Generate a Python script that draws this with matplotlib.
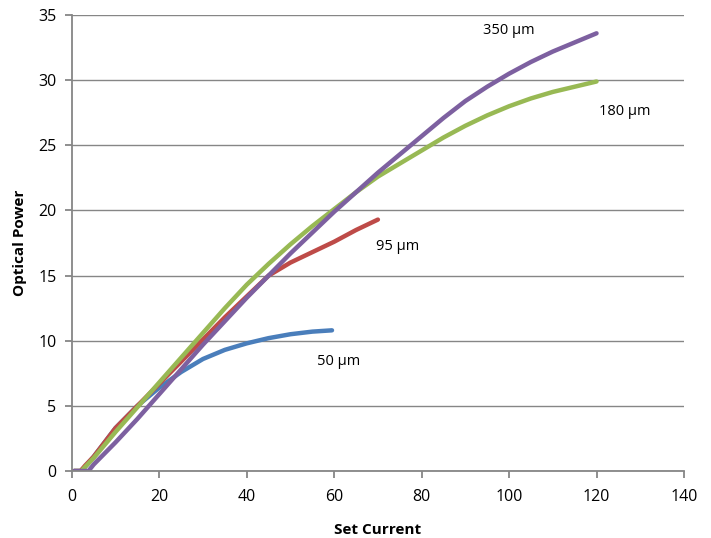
import matplotlib.pyplot as plt

plt.rcParams['font.family'] = ['Open Sans', 'DejaVu Sans']

# 50 um fibre
x50 = [0.5, 2.0, 3.0, 5, 10, 15, 20, 25, 30, 35, 40, 45, 50, 55, 59.5]
y50 = [0.0, 0.0, 0.3, 1.1, 3.3, 5.0, 6.4, 7.6, 8.6, 9.3, 9.8, 10.2, 10.5, 10.7, 10.8]

# 95 um fibre
x95 = [0.5, 2.0, 3.0, 5, 10, 15, 20, 25, 30, 35, 40, 45, 50, 55, 60, 65, 70]
y95 = [0.0, 0.0, 0.4, 1.1, 3.3, 5.0, 6.7, 8.4, 10.1, 11.8, 13.4, 15.0, 16.0, 16.8, 17.6, 18.5, 19.3]

# 180 um fibre
x180 = [0.5, 2.2, 3.0, 5, 10, 15, 20, 25, 30, 35, 40, 45, 50, 55, 60, 65, 70, 75, 80,
        85, 90, 95, 100, 105, 110, 115, 120]
y180 = [0.0, 0.0, 0.3, 1.0, 3.0, 4.9, 6.8, 8.7, 10.6, 12.5, 14.3, 15.9, 17.4, 18.8, 20.1,
        21.4, 22.6, 23.6, 24.6, 25.6, 26.5, 27.3, 28.0, 28.6, 29.1, 29.5, 29.9]

# 350 um fibre
x350 = [0.5, 2.0, 3.8, 5, 10, 15, 20, 25, 30, 35, 40, 45, 50, 55, 60, 65, 70, 75, 80,
        85, 90, 95, 100, 105, 110, 115, 120]
y350 = [0.0, 0.0, 0.0, 0.5, 2.2, 4.0, 5.9, 7.8, 9.7, 11.5, 13.3, 15.0, 16.7, 18.3, 19.9,
        21.4, 22.9, 24.3, 25.7, 27.1, 28.4, 29.5, 30.5, 31.4, 32.2, 32.9, 33.6]

fig = plt.figure(figsize=(7.11, 5.38), dpi=100)
ax = fig.add_axes([0.101, 0.1245, 0.861, 0.8475])

ax.plot(x50, y50, color='#4A7EBB', lw=3.2, solid_capstyle='round')
ax.plot(x95, y95, color='#BE4B48', lw=3.2, solid_capstyle='round')
ax.plot(x180, y180, color='#98B954', lw=3.2, solid_capstyle='round')
ax.plot(x350, y350, color='#7D60A0', lw=3.2, solid_capstyle='round')

ax.text(56, 8.4, '50 µm', fontsize=10.5, va='center')
ax.text(69.5, 17.2, '95 µm', fontsize=10.5, va='center')
ax.text(120.5, 27.6, '180 µm', fontsize=10.5, va='center')
ax.text(94, 33.8, '350 µm', fontsize=10.5, va='center')

ax.set_xlim(0, 140)
ax.set_ylim(0, 35)
ax.set_xticks(range(0, 141, 20))
ax.set_yticks(range(0, 36, 5))
ax.yaxis.grid(True, color='#868686', lw=1)
ax.set_axisbelow(True)
for s in ['top', 'right']:
    ax.spines[s].set_visible(False)
for s in ['left', 'bottom']:
    ax.spines[s].set_color('#868686')
    ax.spines[s].set_linewidth(1.3)
ax.tick_params(colors='#868686', length=5, width=1.3, labelsize=11.5, labelcolor='black')
ax.tick_params(axis='x', pad=8)
ax.tick_params(axis='y', pad=6)

ax.set_xlabel('Set Current', fontsize=11, fontweight='bold', labelpad=13)
ax.set_ylabel('Optical Power', fontsize=11, fontweight='bold', labelpad=8)

fig.savefig('out.png', dpi=100)
